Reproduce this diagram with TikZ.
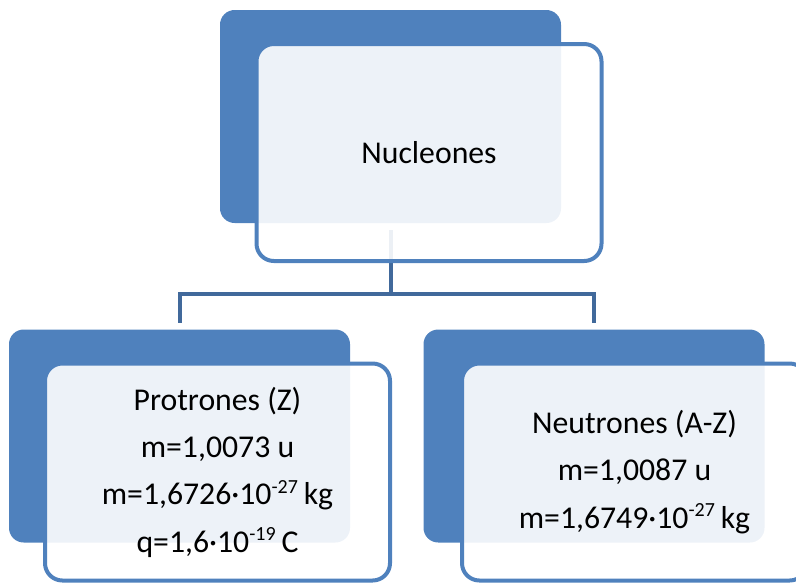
\documentclass[tikz,border=0pt]{standalone}
\usepackage{fontspec}
\setmainfont{Carlito}
\usetikzlibrary{calc}
\definecolor{accent}{HTML}{4F81BD}
\definecolor{connc}{HTML}{41699B}
\newcommand{\supx}[1]{\raisebox{0.36em}{\fontsize{15}{15}\selectfont #1}}
\begin{document}
\begin{tikzpicture}[x=0.75pt,y=-0.75pt,
  backbox/.style={draw=none,fill=accent,rounded corners=11pt,inner sep=0pt,
    minimum width={341*0.75pt},minimum height={213*0.75pt}},
  frontbox/.style={draw=accent,line width=3pt,fill=white,fill opacity=0.9,text opacity=1,
    rounded corners=13pt,inner sep=0pt,align=center,
    minimum width={345*0.75pt},minimum height={217*0.75pt},
    font=\fontsize{23.8}{35.5}\selectfont},
  conn/.style={draw=connc,line width=3pt}]
\useasboundingbox (0,0) rectangle (796,583);
\clip (0,0) rectangle (796,583);
% back boxes
\node[backbox] (topback) at (390.5,116.5) {};
\node[backbox] (lback) at (179.5,436) {};
\node[backbox] (rback) at (594,436) {};
% connectors
\coordinate (bus) at (390.5,294);
\draw[conn] ($(topback.south)+(0,7)$) -- (bus);
\draw[conn] (bus) -| ($(lback.north)+(0,-6)$);
\draw[conn] (bus) -| ($(rback.north)+(0,-6)$);
% front boxes
\node[frontbox] (top) at (429,152.5) {Nucleones};
\node[frontbox] (left) at (217.5,472) {Protrones (Z)\\m=1,0073 u\\m=1,6726·10\supx{-27}\kern-1pt\ kg\\q=1,6·10\supx{-19}\kern-1pt\ C};
\node[frontbox] (right) at (634.5,472) {Neutrones (A-Z)\\m=1,0087 u\\m=1,6749·10\supx{-27}\kern-1pt\ kg};
\end{tikzpicture}
\end{document}
